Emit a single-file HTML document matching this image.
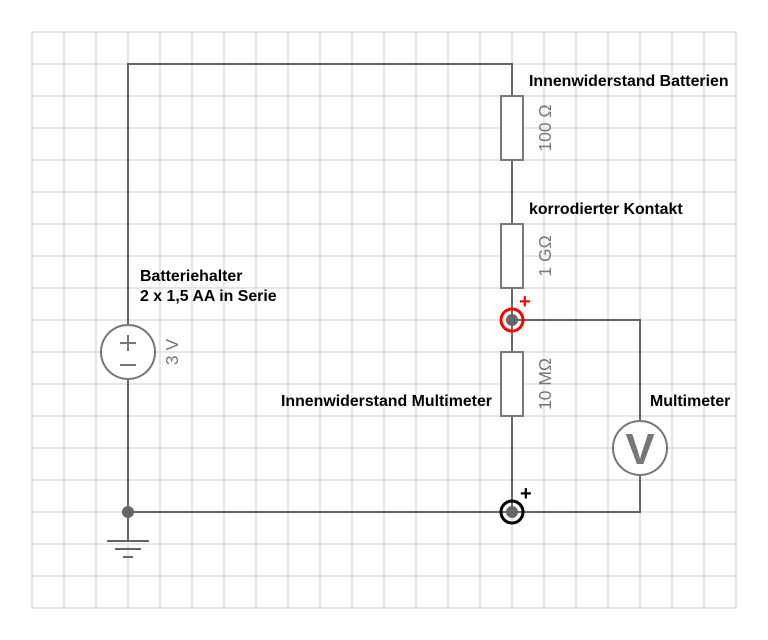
<!DOCTYPE html>
<html><head><meta charset="utf-8"><style>
html,body{margin:0;padding:0;background:#fff;}
svg{display:block;}
.l{font-family:"Liberation Sans",Arial,sans-serif;font-weight:bold;font-size:15.9px;fill:#000;}
.v{font-family:"Liberation Sans",Arial,sans-serif;font-size:17.5px;fill:#777;}
</style></head><body>
<svg width="768" height="640" viewBox="0 0 768 640" xmlns="http://www.w3.org/2000/svg">
<g stroke="#e6e6e6" stroke-width="2">
<path d="M32 32V608M64 32V608M96 32V608M128 32V608M160 32V608M192 32V608M224 32V608M256 32V608M288 32V608M320 32V608M352 32V608M384 32V608M416 32V608M448 32V608M480 32V608M512 32V608M544 32V608M576 32V608M608 32V608M640 32V608M672 32V608M704 32V608M736 32V608"/>
<path d="M32 32H736M32 64H736M32 96H736M32 128H736M32 160H736M32 192H736M32 224H736M32 256H736M32 288H736M32 320H736M32 352H736M32 384H736M32 416H736M32 448H736M32 480H736M32 512H736M32 544H736M32 576H736M32 608H736"/>
</g>
<g stroke="#666" stroke-width="2" fill="none">
<path d="M128 325V64H512V96M512 160V224M512 288V352M512 416V512M128 379V541M128 512H640V475M640 421V320H512"/>
<path d="M107 541H149M115 549H141M123 557H133"/>
</g>
<g stroke="#777" stroke-width="2" fill="#fff">
<rect x="501" y="96" width="22" height="64"/>
<rect x="501" y="224" width="22" height="64"/>
<rect x="501" y="352" width="22" height="64"/>
<circle cx="128" cy="352" r="27"/>
<circle cx="640" cy="448" r="27"/>
</g>
<g stroke="#777" stroke-width="2"><path d="M120 343H136M128 335V351M120 365H136"/></g>
<text x="640" y="464" text-anchor="middle" style="font-family:'Liberation Sans',Arial,sans-serif;font-weight:bold;font-size:44px;fill:#777">V</text>
<circle cx="128" cy="512" r="6" fill="#666"/>
<circle cx="512" cy="320" r="11" fill="none" stroke="#f00" stroke-width="3"/>
<circle cx="512" cy="320" r="6" fill="#666"/>
<circle cx="512" cy="512" r="11" fill="none" stroke="#000" stroke-width="3"/>
<circle cx="512" cy="512" r="6" fill="#666"/>
<text x="519" y="308" style="font-family:'Liberation Sans',Arial,sans-serif;font-weight:bold;font-size:20px;fill:#f00">+</text>
<text x="520" y="500" style="font-family:'Liberation Sans',Arial,sans-serif;font-weight:bold;font-size:20px;fill:#000">+</text>
<text class="v" transform="translate(551,128) rotate(-90)" text-anchor="middle">100 Ω</text>
<text class="v" transform="translate(551,256) rotate(-90)" text-anchor="middle">1 GΩ</text>
<text class="v" transform="translate(551,384) rotate(-90)" text-anchor="middle">10 MΩ</text>
<text class="v" transform="translate(178,352) rotate(-90)" text-anchor="middle">3 V</text>
<text class="l" x="529" y="86">Innenwiderstand Batterien</text>
<text class="l" x="529" y="214">korrodierter Kontakt</text>
<text class="l" x="140" y="281">Batteriehalter</text>
<text class="l" x="140" y="301">2 x 1,5 AA in Serie</text>
<text class="l" x="492" y="406" text-anchor="end">Innenwiderstand Multimeter</text>
<text class="l" x="650" y="406">Multimeter</text>
</svg>
</body></html>
